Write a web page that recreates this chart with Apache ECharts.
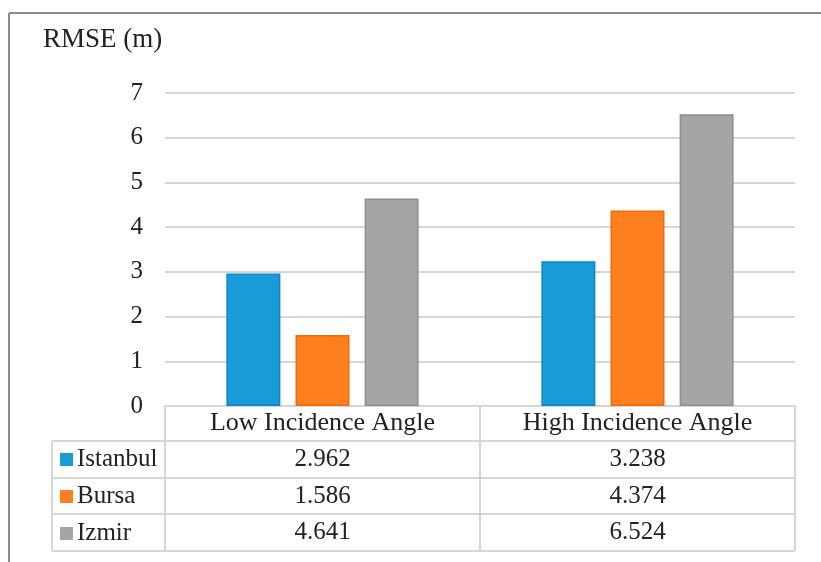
<!DOCTYPE html>
<html>
<head>
<meta charset="utf-8">
<script src="https://cdn.jsdelivr.net/npm/echarts@6/dist/echarts.min.js"></script>
<style>
html,body{margin:0;padding:0;background:#fff;}
#chart{width:821px;height:562px;}
</style>
</head>
<body>
<div id="chart"></div>
<script>
const categories = ['Low Incidence Angle', 'High Incidence Angle'];
const seriesNames = ['Istanbul', 'Bursa', 'Izmir'];
const istanbul = [2.962, 3.238];
const bursa = [1.586, 4.374];
const izmir = [4.641, 6.524];
const yTicks = [0, 1, 2, 3, 4, 5, 6, 7];
const yTitle = 'RMSE (m)';

const values = [istanbul, bursa, izmir];
const colors = ['#189bd6', '#ff7f1e', '#a5a5a5'];
const borders = ['#0b86c6', '#f06a0c', '#8f8f8f'];
const FONT = "'Liberation Serif', 'Tinos', 'DejaVu Serif', serif";
const TXT = '#222';
const LINE = '#d6d6d6';

const chart = echarts.init(document.getElementById('chart'));
const option = {
  animation: false,
  backgroundColor: '#fff',
  grid: {left: 165, right: 26, top: 93, bottom: 156},
  legend: {
    orient: 'vertical',
    left: 60,
    top: 447,
    padding: 0,
    itemWidth: 13,
    itemHeight: 13,
    itemGap: 12,
    icon: 'rect',
    data: seriesNames,
    itemStyle: {borderWidth: 0},
    textStyle: {fontFamily: FONT, fontSize: 25, color: TXT, lineHeight: 25, padding: [0, 0, 0, -1]}
  },
  xAxis: {
    type: 'category',
    data: categories,
    axisLine: {show: true, lineStyle: {color: LINE, width: 2}},
    axisTick: {show: true, length: 145, interval: 0, lineStyle: {color: LINE, width: 2}},
    axisLabel: {fontFamily: FONT, fontSize: 26, color: TXT, margin: 4, interval: 0}
  },
  yAxis: {
    type: 'value',
    min: 0, max: 7, interval: 1,
    axisLine: {show: false},
    axisTick: {show: false},
    splitLine: {lineStyle: {color: LINE, width: 2}},
    axisLabel: {fontFamily: FONT, fontSize: 25, color: TXT, margin: 22,
      formatter: v => yTicks.includes(v) ? String(v) : ''}
  },
  series: seriesNames.map((n, i) => ({
    name: n,
    type: 'bar',
    data: values[i],
    barWidth: 54,
    barGap: '28%',
    itemStyle: {color: colors[i], borderColor: borders[i], borderWidth: 1.5}
  }))
};
chart.setOption(option);

const rowTop = 441, rowH = 36.7, xRight = 795, tableLeft = 52;
const g = [];
g.push({type: 'line', shape: {x1: 9, y1: 13, x2: 9, y2: 562}, style: {stroke: '#8c8c8c', lineWidth: 2}});
g.push({type: 'line', shape: {x1: 9, y1: 13, x2: 821, y2: 13}, style: {stroke: '#8c8c8c', lineWidth: 2}});
g.push({type: 'text', left: 43, top: 26, style: {text: yTitle, fontFamily: FONT, fontSize: 27, fill: TXT}});
for (let r = 0; r <= 3; r++) {
  const y = Math.round(rowTop + r * rowH);
  g.push({type: 'line', shape: {x1: tableLeft, y1: y, x2: xRight, y2: y}, style: {stroke: LINE, lineWidth: 2}});
}
g.push({type: 'line', shape: {x1: tableLeft, y1: rowTop, x2: tableLeft, y2: Math.round(rowTop + 3 * rowH)}, style: {stroke: LINE, lineWidth: 2}});
for (let s = 0; s < seriesNames.length; s++) {
  for (let c = 0; c < categories.length; c++) {
    const cx = chart.convertToPixel({xAxisIndex: 0}, categories[c]);
    g.push({type: 'text', x: cx, y: rowTop + s * rowH + rowH / 2,
      style: {text: values[s][c].toFixed(3), fontFamily: FONT, fontSize: 25, fill: TXT, align: 'center', verticalAlign: 'middle'}});
  }
}
chart.setOption({graphic: g});
</script>
</body>
</html>
